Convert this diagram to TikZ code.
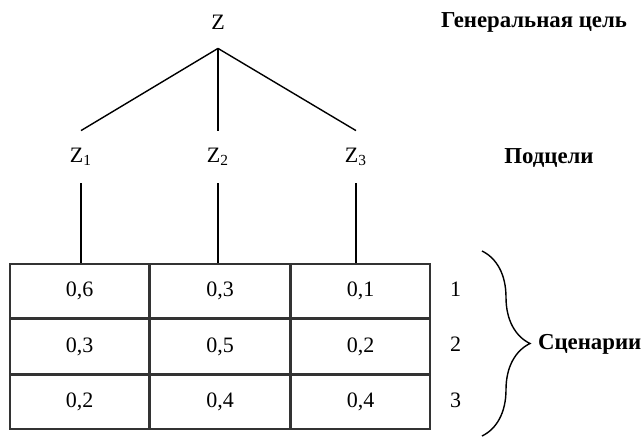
\documentclass[tikz,border=0pt]{standalone}
\usepackage{fontspec}
\setmainfont{Liberation Serif}
\usetikzlibrary{positioning,decorations.pathreplacing}
\tikzstyle{goal} = [inner sep=0pt, minimum height=26pt]
\tikzstyle{title} = [font=\fontsize{11.4}{14}\selectfont\bfseries]
\tikzstyle{cell} = [rectangle, draw=black!80, line width=0.8pt, minimum width=69.5pt,
  minimum height=27pt, inner sep=0pt]
\tikzstyle{line} = [draw, line width=0.7pt]

\begin{document}
\begin{tikzpicture}[x=0.5pt, y=-0.5pt, font=\fontsize{11}{13}\selectfont]
    \useasboundingbox (0,0) rectangle (642,436);
    \node[goal] (z) at (218,22) {Z};
    \node[goal] (z1) at (81,157) {Z\textsubscript{1}};
    \node[goal] (z2) at (218,157) {Z\textsubscript{2}};
    \node[goal] (z3) at (356,157) {Z\textsubscript{3}};

    \node[title] (general) at (534,22) {Генеральная цель};
    \node[title] (subgoals) at (549,158) {Подцели};

    \node[cell] (c11) at (79.5,291) {0,6};
    \node[cell, right=0pt of c11] (c12) {0,3};
    \node[cell, right=0pt of c12] (c13) {0,1};
    \node[cell, below=0pt of c11] (c21) {0,3};
    \node[cell, right=0pt of c21] (c22) {0,5};
    \node[cell, right=0pt of c22] (c23) {0,2};
    \node[cell, below=0pt of c21] (c31) {0,2};
    \node[cell, right=0pt of c31] (c32) {0,4};
    \node[cell, right=0pt of c32] (c33) {0,4};

    \node[right=6pt of c13, yshift=1pt] (r1) {1};
    \node[right=6pt of c23, yshift=1pt] (r2) {2};
    \node[right=6pt of c33, yshift=1pt] (r3) {3};

    \coordinate (btop) at (482,251);
    \coordinate (bbot) at (482,436);
    \node[title, anchor=west] (scenarios) at (531,344) {Сценарии};

    \path[line] (z.south) -- (z1.north);
    \path[line] (z.south) -- (z2.north);
    \path[line] (z.south) -- (z3.north);
    \path[line] (z1.south) -- (z1.south |- c11.north);
    \path[line] (z2.south) -- (z2.south |- c12.north);
    \path[line] (z3.south) -- (z3.south |- c13.north);
    \draw[line, decorate, decoration={brace, amplitude=24pt}] (btop) -- (bbot);
  \end{tikzpicture}
\end{document}
